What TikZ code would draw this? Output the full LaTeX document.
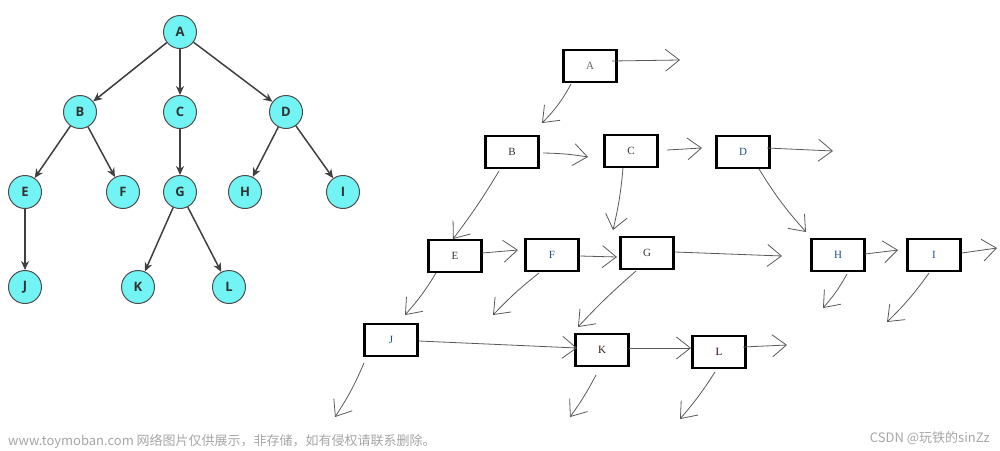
\documentclass[tikz,border=0pt]{standalone}
\usepackage{fontspec}
\setmainfont{Liberation Serif}
\newfontfamily\cjk{Noto Sans CJK SC}
\newfontfamily\circfont{Open Sans}
\usetikzlibrary{arrows.meta,calc}
\definecolor{cyanfill}{HTML}{72F4F4}
\definecolor{lblblue}{HTML}{1F4E9A}
\definecolor{lbldark}{HTML}{3A3030}
\tikzset{
  circ/.style={circle, draw=black!70, line width=1pt, fill=cyanfill, minimum size=33pt, inner sep=0pt,
    font=\circfont\bfseries\fontsize{13}{13}\selectfont, text=black!80},
  tarr/.style={draw=black!75, line width=1.5pt, -{Stealth[length=9pt,width=8pt]}},
  box/.style={draw=black, line width=2.2pt, minimum width=53pt, minimum height=32pt, inner sep=0pt,
    font=\fontsize{11}{11}\selectfont, text=lbldark},
  bl/.style={text=lblblue},
  hand/.style={draw=black!65, line width=0.8pt, -{Straight Barb[length=14pt,width=22pt]}},
  wm/.style={text=black!35, font=\cjk\fontsize{13}{13}\selectfont, inner sep=0pt}
}
\begin{document}
\begin{tikzpicture}[x=1pt,y=-1pt]
\useasboundingbox (0,0) rectangle (1000,450);
% ---------- left tree ----------
\node[circ] (tA) at (180,32) {A};
\node[circ] (tB) at (80,112) {B};
\node[circ] (tC) at (180,112) {C};
\node[circ] (tD) at (286,112) {D};
\node[circ] (tE) at (25,192) {E};
\node[circ] (tF) at (123,192) {F};
\node[circ] (tG) at (180,192) {G};
\node[circ] (tH) at (245,192) {H};
\node[circ] (tI) at (343,192) {I};
\node[circ] (tJ) at (25,287) {J};
\node[circ] (tK) at (138,287) {K};
\node[circ] (tL) at (229,287) {L};
\draw[tarr] (tA) -- (tB);
\draw[tarr] (tA) -- (tC);
\draw[tarr] (tA) -- (tD);
\draw[tarr] (tB) -- (tE);
\draw[tarr] (tB) -- (tF);
\draw[tarr] (tC) -- (tG);
\draw[tarr] (tD) -- (tH);
\draw[tarr] (tD) -- (tI);
\draw[tarr] (tE) -- (tJ);
\draw[tarr] (tG) -- (tK);
\draw[tarr] (tG) -- (tL);
% ---------- right boxes ----------
\node[box, text=black!60] (A) at (590,66) {A};
\node[box] (B) at (512,152) {B};
\node[box] (C) at (631,151) {C};
\node[box, bl] (D) at (743,152) {D};
\node[box] (E) at (455,256) {E};
\node[box, bl] (F) at (552,255) {F};
\node[box] (G) at (647,253) {G};
\node[box, bl] (H) at (838,255) {H};
\node[box, bl] (I) at (934,255) {I};
\node[box, bl] (J) at (391,340) {J};
\node[box, text=black!75!brown] (K) at (602,350) {K};
\node[box, text=black!70!violet] (L) at (719,352) {L};
% free ends
\coordinate (Ar) at (680,60);
\coordinate (Dr) at (833,151);
\coordinate (Gr) at (782,256);
\coordinate (Ir) at (997,248);
\coordinate (Hd) at (823,308);
\coordinate (Id) at (887,322);
\coordinate (Fd) at (493,315);
\coordinate (Lr) at (787,345);
\coordinate (Jd) at (335,417);
\coordinate (Kd) at (570,417);
\coordinate (Ld) at (680,419);
% hand-drawn pointers
\draw[hand] ($(A)+(22,-5)$) -- (Ar);
\draw[hand] ($(A)+(-19,18)$) to[bend left=8] ($(B)+(30,-29)$);
\draw[hand] ($(B)+(31,1)$) to[bend left=4] ($(C)+(-43,6)$);
\draw[hand] ($(C)+(36,-1)$) -- ($(D)+(-41,-4)$);
\draw[hand] ($(D)+(24,-4)$) -- (Dr);
\draw[hand] ($(D)+(16,17)$) to[bend right=5] ($(H)+(-32,-23)$);
\draw[hand] ($(B)+(-13,19)$) to[bend left=3] ($(E)+(-2,-17)$);
\draw[hand] ($(C)+(-8,17)$) to[bend left=4] ($(G)+(-34,-23)$);
\draw[hand] ($(G)+(28,-1)$) -- (Gr);
\draw[hand] ($(E)+(27,-3)$) -- ($(F)+(-34,-5)$);
\draw[hand] ($(F)+(28,1)$) -- ($(G)+(-30,4)$);
\draw[hand] ($(H)+(27,-1)$) -- ($(I)+(-36,-5)$);
\draw[hand] ($(I)+(28,-2)$) -- (Ir);
\draw[hand] ($(H)+(9,19)$) to[bend left=6] (Hd);
\draw[hand] ($(I)+(-5,18)$) to[bend left=5] (Id);
\draw[hand] ($(E)+(-19,17)$) to[bend left=5] ($(J)+(14,-25)$);
\draw[hand] ($(F)+(-13,18)$) to[bend right=4] (Fd);
\draw[hand] ($(G)+(-11,18)$) to[bend right=3] ($(K)+(-24,-23)$);
\draw[hand] ($(J)+(28,1)$) -- ($(K)+(-25,-2)$);
\draw[hand] ($(K)+(27,-2)$) -- ($(L)+(-28,-4)$);
\draw[hand] ($(L)+(24,-5)$) -- (Lr);
\draw[hand] ($(J)+(-27,23)$) to[bend left=5] (Jd);
\draw[hand] ($(K)+(-6,25)$) to[bend left=4] (Kd);
\draw[hand] ($(L)+(-4,20)$) to[bend left=4] (Ld);
% watermarks
\node[wm, anchor=west] (wm1) at (8,441) {www.toymoban.com 网络图片仅供展示，非存储，如有侵权请联系删除。};
\node[wm, anchor=east] (wm2) at (990,438) {CSDN @玩铁的sinZz};
\end{tikzpicture}
\end{document}
